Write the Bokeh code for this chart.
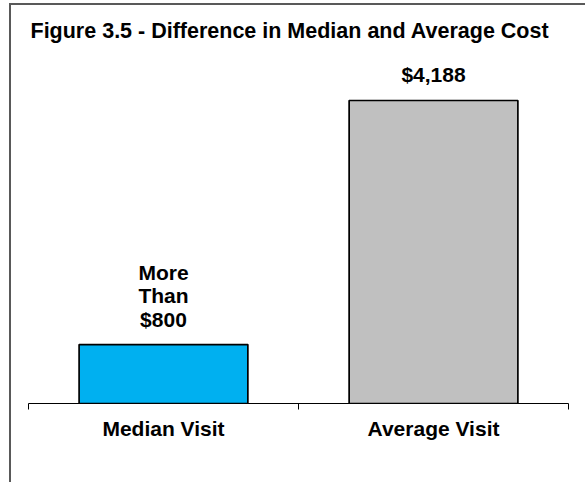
from bokeh.plotting import figure
from bokeh.models import Range1d, FixedTicker, Label, ColumnDataSource, InlineStyleSheet
from bokeh.core.properties import value
from bokeh.embed import file_html
from bokeh.resources import INLINE

# ---- data ----
categories = ["Median Visit", "Average Visit"]
costs = [815, 4188]
bar_labels = ["More\nThan\n$800", "$4,188"]
bar_colors = ["#00B0F0", "#C0C0C0"]
title_text = "Figure 3.5 - Difference in Median and Average Cost"

FONT = "Liberation Sans"

positions = [i + 0.5 for i in range(len(categories))]
src = ColumnDataSource(dict(x=positions, top=costs, label=bar_labels, color=bar_colors))

p = figure(width=585, height=482, output_backend="svg", toolbar_location=None,
           x_range=Range1d(-28 / 270.3, 2 + 17 / 270.3),
           y_range=Range1d(0, 5570),
           y_axis_location=None,
           min_border_left=0, min_border_right=0, min_border_top=0, min_border_bottom=79)
p.outline_line_color = None
p.xgrid.visible = False
p.ygrid.visible = False
p.background_fill_color = "white"
p.border_fill_color = "white"

p.vbar(x="x", top="top", bottom=0, width=0.625, source=src,
       fill_color="color", line_color="black", line_width=1.7)

p.text(x="x", y="top", text="label", source=src, text_align="center",
       text_baseline="bottom", y_offset=-14, text_font=value(FONT),
       text_font_style="bold", text_font_size="21px", text_color="black",
       text_line_height=1.02)

ax = p.xaxis[0]
ax.ticker = FixedTicker(ticks=positions, minor_ticks=list(range(len(categories) + 1)))
ax.major_label_overrides = {pos: c for pos, c in zip(positions, categories)}
ax.major_tick_out = 0
ax.major_tick_in = 0
ax.minor_tick_out = 6
ax.minor_tick_in = 0
ax.minor_tick_line_color = "black"
ax.bounds = (0, len(categories))
ax.axis_line_color = "black"
ax.axis_line_width = 1
ax.major_label_standoff = 7
ax.major_label_text_font = FONT
ax.major_label_text_font_style = "bold"
ax.major_label_text_font_size = "21px"
ax.major_label_text_color = "black"

p.add_layout(Label(x=30, y=373, x_units="screen", y_units="screen", text=title_text,
                   text_font=FONT, text_font_style="bold", text_font_size="21.5px",
                   text_color="black", text_baseline="alphabetic"))

# chart border (left and top edges of the chart box)
p.styles = {"position": "relative"}
p.stylesheets = [InlineStyleSheet(css="""
:host::after {
  content: "";
  position: absolute;
  left: 9px; top: 3px; right: 0px; bottom: 0px;
  border-left: 2px solid #595959;
  border-top: 2px solid #595959;
  pointer-events: none;
  z-index: 10;
}
""")]

open("out.html", "w").write(file_html(p, INLINE))
